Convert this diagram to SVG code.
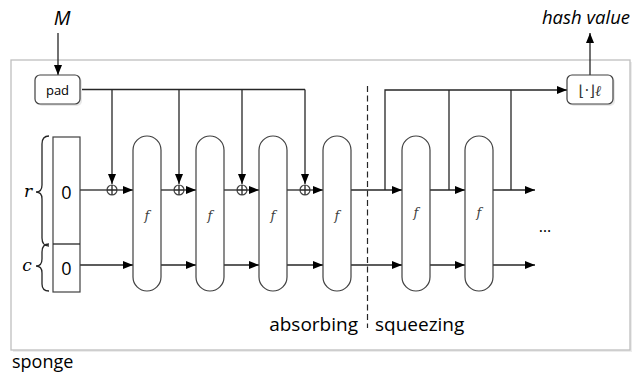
<svg xmlns="http://www.w3.org/2000/svg" width="636" height="381" viewBox="0 0 636 381">
  <defs>
    <marker id="arrow" viewBox="0 0 10 8" refX="10" refY="4" markerWidth="10" markerHeight="8" markerUnits="userSpaceOnUse" orient="auto">
      <path d="M0,0 L10,4 L0,8 Z" fill="#000"/>
    </marker>
  </defs>
  <style>
    .frame { fill: #fff; stroke: #bfbfbf; stroke-width: 1.3; }
    .box { fill: #fff; stroke: #404040; stroke-width: 1.2; }
    .cap { fill: #fff; stroke: #404040; stroke-width: 1.2; }
    .ln { fill: none; stroke: #262626; stroke-width: 1.3; }
    .arr { fill: none; stroke: #262626; stroke-width: 1.3; marker-end: url(#arrow); }
    .sans { font-family: "Open Sans", "Liberation Sans", sans-serif; fill: #000; }
    .serif { font-family: "DejaVu Serif", serif; font-style: italic; fill: #000; }
    .fl { font-family: "DejaVu Serif", serif; font-style: italic; font-size: 13px; fill: #404040; text-anchor: middle; }
  </style>

  <!-- sponge frame -->
  <rect x="13" y="62" width="619" height="290" fill="#ececec"/>
  <rect id="frame" class="frame" x="11" y="60" width="619" height="290"/>

  <!-- outer labels -->
  <text class="sans" x="62" y="25" font-size="20" font-style="italic" text-anchor="middle">M</text>
  <text class="sans" x="586" y="24" font-size="18.5" font-style="italic" text-anchor="middle">hash value</text>
  <text class="sans" x="12" y="368" font-size="18">sponge</text>

  <!-- phase divider -->
  <line x1="367.5" y1="86" x2="367.5" y2="328" stroke="#262626" stroke-width="1.2" stroke-dasharray="6,3.5"/>
  <text class="sans" x="358" y="331" font-size="19" text-anchor="end">absorbing</text>
  <text class="sans" x="375" y="331" font-size="19">squeezing</text>

  <!-- connectors -->
  <g id="connectors">
    <line class="arr" x1="58" y1="33" x2="58" y2="75"/>
    <line class="arr" x1="590" y1="75" x2="590" y2="33"/>
    <!-- padded blocks -->
    <polyline class="ln" points="80,89.5 305,89.5"/>
    <line class="arr" x1="112" y1="89.5" x2="112" y2="184"/>
    <line class="arr" x1="179" y1="89.5" x2="179" y2="184"/>
    <line class="arr" x1="242" y1="89.5" x2="242" y2="184"/>
    <line class="arr" x1="305" y1="89.5" x2="305" y2="184"/>
    <!-- r row, absorbing -->
    <line class="ln" x1="80" y1="190" x2="107" y2="190"/>
    <line class="arr" x1="117" y1="190" x2="133" y2="190"/>
    <line class="ln" x1="161" y1="190" x2="174" y2="190"/>
    <line class="arr" x1="184" y1="190" x2="196" y2="190"/>
    <line class="ln" x1="224" y1="190" x2="237" y2="190"/>
    <line class="arr" x1="247" y1="190" x2="259" y2="190"/>
    <line class="ln" x1="287" y1="190" x2="300" y2="190"/>
    <line class="arr" x1="310" y1="190" x2="323" y2="190"/>
    <!-- r row, squeezing -->
    <line class="arr" x1="351" y1="190" x2="402" y2="190"/>
    <line class="arr" x1="430" y1="190" x2="465" y2="190"/>
    <line class="arr" x1="493" y1="190" x2="535" y2="190"/>
    <polyline class="arr" points="385,190 385,90 567,90"/>
    <line class="ln" x1="449" y1="190" x2="449" y2="90"/>
    <line class="ln" x1="511" y1="190" x2="511" y2="90"/>
    <!-- c row -->
    <line class="arr" x1="80" y1="265" x2="133" y2="265"/>
    <line class="arr" x1="161" y1="265" x2="196" y2="265"/>
    <line class="arr" x1="224" y1="265" x2="259" y2="265"/>
    <line class="arr" x1="287" y1="265" x2="323" y2="265"/>
    <line class="arr" x1="351" y1="265" x2="402" y2="265"/>
    <line class="arr" x1="430" y1="265" x2="465" y2="265"/>
    <line class="arr" x1="493" y1="265" x2="535" y2="265"/>
  </g>

  <!-- xor nodes -->
  <g id="xor1"><circle class="box" cx="112" cy="190" r="5"/><path class="ln" d="M107,190 H117 M112,185 V195" stroke-width="1"/></g>
  <g id="xor2"><circle class="box" cx="179" cy="190" r="5"/><path class="ln" d="M174,190 H184 M179,185 V195" stroke-width="1"/></g>
  <g id="xor3"><circle class="box" cx="242" cy="190" r="5"/><path class="ln" d="M237,190 H247 M242,185 V195" stroke-width="1"/></g>
  <g id="xor4"><circle class="box" cx="305" cy="190" r="5"/><path class="ln" d="M300,190 H310 M305,185 V195" stroke-width="1"/></g>

  <!-- pad -->
  <g id="pad">
    <rect x="37" y="77" width="45" height="29" rx="5" fill="#e8e8e8"/>
    <rect class="box" x="35" y="75" width="45" height="29" rx="5"/>
    <text class="sans" x="57.5" y="95" font-size="13" text-anchor="middle">pad</text>
  </g>

  <!-- truncation -->
  <g id="trunc">
    <rect x="569" y="77" width="46" height="29" rx="5" fill="#e8e8e8"/>
    <rect class="box" x="567" y="75" width="46" height="29" rx="5"/>
    <text x="590" y="95.5" font-size="15" text-anchor="middle" font-family="DejaVu Sans, sans-serif" fill="#333">⌊·⌋<tspan font-family="DejaVu Serif, serif" font-style="italic">ℓ</tspan></text>
  </g>

  <!-- state -->
  <g id="state">
    <rect class="box" x="53" y="137" width="27" height="155"/>
    <line class="ln" x1="53" y1="244" x2="80" y2="244" stroke="#404040"/>
    <text class="sans" x="66.5" y="199" font-size="18" text-anchor="middle">0</text>
    <text class="sans" x="66.5" y="275" font-size="18" text-anchor="middle">0</text>
  </g>

  <!-- braces -->
  <g id="brace-r">
    <path class="ln" stroke-width="1.1" d="M49,136 Q42,136 42,144 L42,185 Q42,192 36,192 Q42,192 42,199 L42,238 Q42,246 49,246"/>
    <text class="serif" x="28" y="197" font-size="17" text-anchor="middle">r</text>
  </g>
  <g id="brace-c">
    <path class="ln" stroke-width="1.1" d="M49,244 Q42,244 42,252 L42,259 Q42,266 36,266 Q42,266 42,273 L42,284 Q42,291 49,291"/>
    <text class="serif" x="27" y="271" font-size="17" text-anchor="middle">c</text>
  </g>

  <!-- permutations -->
  <g id="f1"><rect class="cap" x="133" y="136" width="28" height="155" rx="14"/><text class="fl" x="147" y="220">f</text></g>
  <g id="f2"><rect class="cap" x="196" y="136" width="28" height="155" rx="14"/><text class="fl" x="210" y="220">f</text></g>
  <g id="f3"><rect class="cap" x="259" y="136" width="28" height="155" rx="14"/><text class="fl" x="273" y="220">f</text></g>
  <g id="f4"><rect class="cap" x="323" y="136" width="28" height="155" rx="14"/><text class="fl" x="337" y="220">f</text></g>
  <g id="f5"><rect class="cap" x="402" y="136" width="28" height="155" rx="14"/><text class="fl" x="416" y="217">f</text></g>
  <g id="f6"><rect class="cap" x="465" y="136" width="28" height="155" rx="14"/><text class="fl" x="479" y="217">f</text></g>

  <text class="sans" x="545" y="232" font-size="16" text-anchor="middle" fill="#333">…</text>
</svg>
